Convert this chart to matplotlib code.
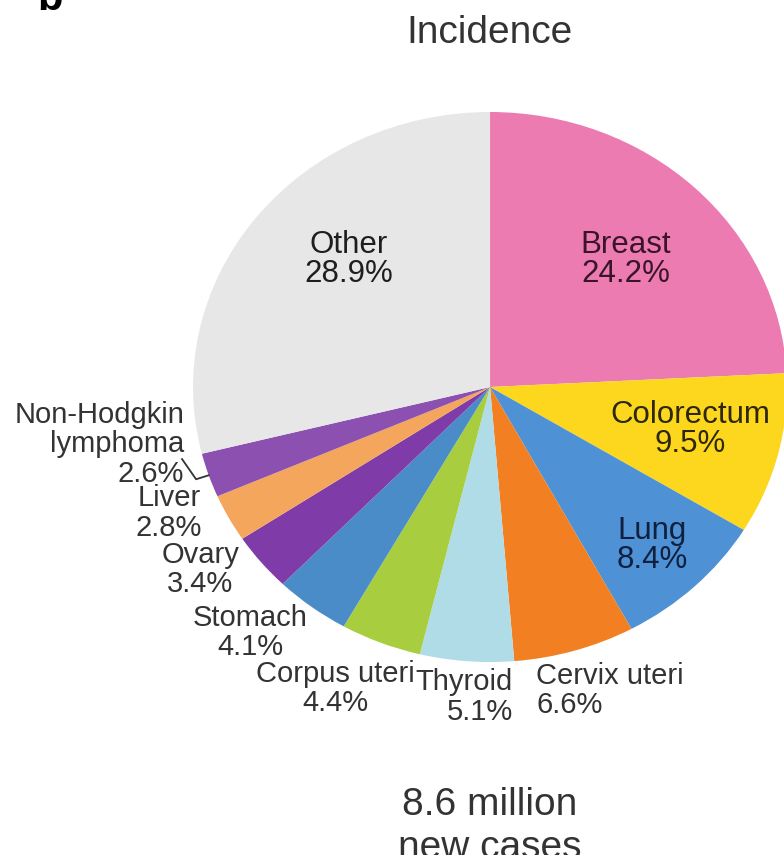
import numpy as np
import matplotlib.pyplot as plt

plt.rcParams['font.family'] = ['Liberation Sans', 'DejaVu Sans']

# Female cancer incidence shares (%)
sites = ['Breast', 'Colorectum', 'Lung', 'Cervix uteri', 'Thyroid', 'Corpus uteri',
         'Stomach', 'Ovary', 'Liver', 'Non-Hodgkin\nlymphoma', 'Other']
shares = [24.2, 9.5, 8.4, 6.6, 5.1, 4.4, 4.1, 3.4, 2.8, 2.6, 28.9]
colors = ['#EC7BB1', '#FCD71E', '#4E91D4', '#F28022', '#B0DCE8', '#A8CE40',
          '#4A8CC8', '#7F3CA8', '#F4A65C', '#8C50B0', '#E7E7E7']

# label placement (x, y, ha) in pie units
label_pos = {
    'Breast': (0.458, 0.465, 'center'),
    'Colorectum': (0.673, -0.153, 'center'),
    'Lung': (0.545, -0.575, 'center'),
    'Cervix uteri': (0.155, -1.102, 'left'),
    'Thyroid': (0.077, -1.127, 'right'),
    'Corpus uteri': (-0.522, -1.095, 'center'),
    'Stomach': (-0.808, -0.891, 'center'),
    'Ovary': (-0.976, -0.665, 'center'),
    'Liver': (-1.081, -0.458, 'center'),
    'Non-Hodgkin\nlymphoma': (-1.030, -0.209, 'right'),
    'Other': (-0.475, 0.465, 'center'),
}
inside = {'Breast': '#3A1428', 'Colorectum': '#2E2808', 'Lung': '#10203E', 'Other': '#1E1E1E'}

fig = plt.figure(figsize=(7.84, 8.55), dpi=100)
ax = fig.add_axes([0.2462, 0.2257, 0.7577, 0.6433])

wedges, _ = ax.pie(shares, colors=colors, startangle=90, counterclock=False,
                   wedgeprops=dict(linewidth=0))
ax.set_aspect('auto')
ax.set_xlim(-1, 1)
ax.set_ylim(-1, 1)
ax.axis('off')

for site, share in zip(sites, shares):
    x, y, ha = label_pos[site]
    txt = f'{site}\n{share}%'
    if site in inside:
        ax.text(x, y, txt, ha='center', va='center', fontsize=22.5,
                color=inside[site], linespacing=0.95)
    else:
        ax.text(x, y, txt, ha=ha, va='center', fontsize=21,
                color='#333333', linespacing=1.05, clip_on=False)

# leader line for Non-Hodgkin lymphoma
w = wedges[sites.index('Non-Hodgkin\nlymphoma')]
mid = np.radians((w.theta1 + w.theta2) / 2)
ax.plot([np.cos(mid), 1.045 * np.cos(mid), -1.037],
        [np.sin(mid), 1.045 * np.sin(mid), -0.262],
        color='#333333', lw=1.3, clip_on=False)

fig.text(0.625, 0.961, 'Incidence', ha='center', va='center', fontsize=28, color='#333333')
fig.text(0.625, 0.0333, '8.6 million\nnew cases', ha='center', va='center',
         fontsize=28, color='#333333', linespacing=1.23)
fig.text(0.064, 0.9885, 'b', ha='center', va='baseline', fontsize=30,
         fontweight='bold', color='black')

fig.savefig('out.png', dpi=100)
